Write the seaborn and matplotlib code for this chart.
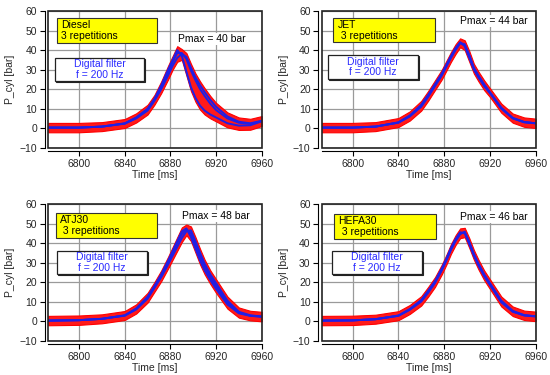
import numpy as np
import pandas as pd
import matplotlib
matplotlib.use("Agg")
import matplotlib.pyplot as plt
from matplotlib.patches import Rectangle
import matplotlib.transforms as mtransforms
import seaborn as sns

# ---------------- data ----------------
time_ms = [6773, 6800, 6820, 6840, 6850, 6860, 6866, 6872, 6878, 6882, 6886,
           6890, 6894, 6898, 6902, 6906, 6910, 6915, 6920, 6930, 6940, 6950, 6960]

diesel_rep1 = [0.3, 0.3, 0.8, 2.5, 5.5, 10, 15, 22, 30, 35, 40, 37, 29, 21, 15.5, 11.5, 9, 7, 5.5, 2.5, 1.3, 1.5, 3.5]
diesel_rep2 = [0.3, 0.3, 0.8, 2.3, 5, 9, 14, 20, 27, 32, 36, 38, 36.5, 31, 26, 22, 18.5, 14.5, 11, 6, 3.3, 2.5, 3.8]
diesel_rep3 = [0.3, 0.3, 0.8, 2.4, 5.2, 9.5, 14.5, 21, 28.5, 34, 38.5, 38.5, 35.5, 29.5, 24.5, 20, 16.5, 12.5, 9.3, 5, 2.8, 2.2, 3.6]

jet_rep1 = [0.3, 0.3, 0.8, 3, 6.5, 12, 17, 22.5, 28, 32.5, 37, 41, 44, 42, 36, 30, 26, 21.5, 18, 10, 5, 3, 2.5]
jet_rep2 = [0.3, 0.3, 0.8, 2.8, 6, 11, 16, 21.5, 27, 31.5, 36, 40, 43.5, 43, 37.5, 31, 27, 22.5, 18.5, 10.5, 5.3, 3.2, 2.5]
jet_rep3 = [0.3, 0.3, 0.8, 2.9, 6.2, 11.5, 16.5, 22, 27.5, 32, 36.5, 40.5, 43.8, 42.5, 37, 30.5, 26.5, 22, 18.2, 10.2, 5.1, 3.1, 2.5]

atj_rep1 = [0.3, 0.5, 1.2, 3, 6.5, 12.5, 18, 24, 31, 36, 41, 46, 47.5, 43, 37, 31, 26, 21, 16.5, 8.5, 4, 2.7, 2.3]
atj_rep2 = [0.3, 0.5, 1.2, 2.8, 6, 11.5, 17, 22.5, 29, 33.5, 38, 42.5, 46, 46.5, 41, 35, 29.5, 24, 19.5, 10.5, 4.8, 3, 2.4]
atj_rep3 = [0.3, 0.5, 1.2, 2.9, 6.2, 12, 17.5, 23.5, 30, 35, 40, 44.5, 47, 45, 39, 33, 28, 22.5, 18, 9.5, 4.4, 2.8, 2.3]

hefa_rep1 = [0.3, 0.4, 1, 2.8, 6, 10.5, 15, 20, 26.5, 31.5, 37, 41.5, 45, 45.5, 40, 34, 29, 23.5, 19, 10, 5, 3, 2.5]
hefa_rep2 = [0.3, 0.4, 1, 2.7, 5.8, 10, 14.5, 19.5, 26, 31, 36.5, 41, 44.5, 45.8, 40.5, 34.5, 29.5, 24, 19.5, 10.5, 5.3, 3.1, 2.5]
hefa_rep3 = [0.3, 0.4, 1, 2.9, 6.2, 10.8, 15.5, 20.5, 27, 32, 37.5, 42, 45.5, 45, 39.5, 33.5, 28.5, 23, 18.5, 9.6, 4.8, 2.9, 2.4]

# half-width of the raw (red, unfiltered) signal noise around the filtered curves
noise_half = [2.4, 2.4, 2.3, 2.2, 2.1, 2.0, 2.0, 2.0, 2.0, 2.0, 2.0, 2.0, 2.0,
              2.0, 2.0, 2.0, 2.0, 2.0, 2.0, 2.1, 2.2, 2.3, 2.4]

fuels = ["Diesel", "JET", "ATJ30", "HEFA30"]
fuel_labels = ["Diesel\n3 repetitions", "JET\n 3 repetitions",
               "ATJ30\n 3 repetitions", "HEFA30\n 3 repetitions"]
pmax_labels = ["Pmax = 40 bar", "Pmax = 44 bar", "Pmax = 48 bar", "Pmax = 46 bar"]
filter_label = "Digital filter\nf = 200 Hz"
x_ticks = [6800, 6840, 6880, 6920, 6960]
y_ticks = [-10, 0, 10, 20, 30, 40, 50, 60]

reps = {
    "Diesel": [diesel_rep1, diesel_rep2, diesel_rep3],
    "JET": [jet_rep1, jet_rep2, jet_rep3],
    "ATJ30": [atj_rep1, atj_rep2, atj_rep3],
    "HEFA30": [hefa_rep1, hefa_rep2, hefa_rep3],
}

# ---------------- styling / layout ----------------
sns.set_theme(style="ticks")
plt.rcParams["font.family"] = ["Liberation Sans", "DejaVu Sans"]
FS = 7.5
plt.rcParams["font.size"] = FS

fig = plt.figure(figsize=(5.5, 3.75), dpi=100)

axes_pos = [
    [0.0878, 0.6061, 0.388, 0.3645],
    [0.5849, 0.6061, 0.389, 0.3645],
    [0.0878, 0.0915, 0.388, 0.3645],
    [0.5849, 0.0915, 0.389, 0.3645],
]
yellow_boxes = [(0.041, 0.766, 0.51, 0.949), (0.054, 0.77, 0.529, 0.95),
                (0.036, 0.749, 0.508, 0.932), (0.059, 0.744, 0.533, 0.925)]
white_boxes = [(0.031, 0.488, 0.449, 0.656), (0.028, 0.503, 0.449, 0.678),
               (0.042, 0.488, 0.461, 0.658), (0.05, 0.488, 0.467, 0.658)]
pmax_pos = [(0.767, 0.793), (0.805, 0.929), (0.785, 0.914), (0.804, 0.907)]

for i, fuel in enumerate(fuels):
    ax = fig.add_axes(axes_pos[i])
    curves = np.array(reps[fuel])
    df = pd.DataFrame({
        "t": np.tile(time_ms, 3),
        "p": curves.ravel(),
        "rep": np.repeat([1, 2, 3], len(time_ms)),
    })
    lo = curves.min(axis=0) - np.array(noise_half)
    hi = curves.max(axis=0) + np.array(noise_half)
    ax.fill_between(time_ms, lo, hi, color="#ff1a1a", lw=0.8, edgecolor="#ff0000", zorder=2)
    sns.lineplot(data=df, x="t", y="p", units="rep", estimator=None,
                 color="#1f1fe6", lw=1.4, ax=ax, zorder=3, legend=False)

    ax.set_xlim(6773, 6960)
    ax.set_ylim(-10, 60)
    ax.set_xticks(x_ticks)
    ax.set_yticks(y_ticks)
    ax.grid(True, color="#9a9a9a", lw=0.9)
    ax.set_axisbelow(True)
    ax.set_xlabel("Time [ms]", fontsize=FS, labelpad=1)
    ax.set_ylabel("P_cyl [bar]", fontsize=FS, labelpad=3)
    ax.tick_params(axis="both", labelsize=FS, length=3.5, width=0.8, pad=2, color="black")
    for side in ["left", "bottom"]:
        ax.spines[side].set_position(("outward", 2.5))
        ax.spines[side].set_linewidth(0.8)
        ax.spines[side].set_color("black")
    for side in ["top", "right"]:
        ax.spines[side].set_visible(False)
    # plot frame
    ax.add_patch(Rectangle((0, 0), 1, 1, transform=ax.transAxes, fill=False,
                           edgecolor="#222222", lw=1.2, zorder=6, clip_on=False))

    # yellow label box
    x0, y0, x1, y1 = yellow_boxes[i]
    ax.add_patch(Rectangle((x0, y0), x1 - x0, y1 - y0, transform=ax.transAxes,
                           facecolor="#ffff00", edgecolor="#333333", lw=0.8, zorder=7))
    ax.text(x0 + 0.02, (y0 + y1) / 2, fuel_labels[i], transform=ax.transAxes,
            ha="left", va="center", fontsize=FS, color="black", zorder=8, linespacing=1.1)

    # white filter box with shadow
    x0, y0, x1, y1 = white_boxes[i]
    shadow = mtransforms.offset_copy(ax.transAxes, fig=fig, x=1.0, y=-1.0, units="dots")
    ax.add_patch(Rectangle((x0, y0), x1 - x0, y1 - y0, transform=shadow,
                           facecolor="#222222", edgecolor="#222222", lw=0.8, zorder=7))
    ax.add_patch(Rectangle((x0, y0), x1 - x0, y1 - y0, transform=ax.transAxes,
                           facecolor="white", edgecolor="#222222", lw=0.9, zorder=7))
    ax.text((x0 + x1) / 2, (y0 + y1) / 2, filter_label, transform=ax.transAxes,
            ha="center", va="center", fontsize=FS, color="#2a2aff", zorder=8, linespacing=1.1)

    # Pmax annotation
    px, py = pmax_pos[i]
    ax.text(px, py, pmax_labels[i], transform=ax.transAxes, ha="center", va="center",
            fontsize=FS, color="black", zorder=8,
            bbox=dict(facecolor="white", edgecolor="none", pad=0.8))

fig.savefig("out.png", dpi=100)
